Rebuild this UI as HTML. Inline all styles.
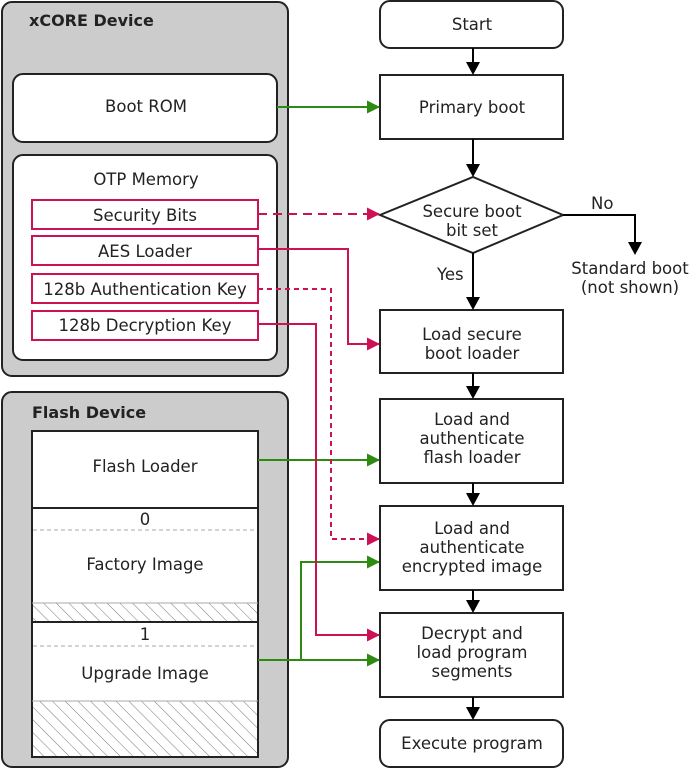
<!DOCTYPE html>
<html><head><meta charset="utf-8"><style>
html,body{margin:0;padding:0;background:#fff;width:689px;height:769px;overflow:hidden}
svg{display:block}
text{font-family:"DejaVu Sans","Liberation Sans",sans-serif;font-size:16.5px;fill:#222}
</style></head><body>
<svg width="689" height="769" viewBox="0 0 689 769" xmlns="http://www.w3.org/2000/svg">
<defs>
<pattern id="h" patternUnits="userSpaceOnUse" width="9" height="9" patternTransform="rotate(-45)">
<rect width="9" height="9" fill="#fff"/><line x1="0" y1="0" x2="0" y2="9" stroke="#777" stroke-width="1"/>
</pattern>
<marker id="ag" markerWidth="13" markerHeight="13" refX="12" refY="6.5" orient="auto" markerUnits="userSpaceOnUse"><path d="M0,0 L13,6.5 L0,13 z" fill="#2e8b12"/></marker>
<marker id="ar" markerWidth="13" markerHeight="13" refX="12" refY="6.5" orient="auto" markerUnits="userSpaceOnUse"><path d="M0,0 L13,6.5 L0,13 z" fill="#cc1155"/></marker>
</defs>

<rect x="2" y="2" width="286" height="374" rx="10" fill="#cccccc" stroke="#222" stroke-width="2"/>
<text x="29" y="26" style="font-weight:bold;font-size:16px">xCORE Device</text>
<rect x="13" y="74" width="264" height="68" rx="10" fill="#fff" stroke="#222" stroke-width="2"/>
<text x="146" y="112" text-anchor="middle">Boot ROM</text>
<rect x="13" y="155" width="264" height="205" rx="10" fill="#fff" stroke="#222" stroke-width="2"/>
<text x="146" y="185" text-anchor="middle">OTP Memory</text>
<g fill="#fff" stroke="#cc1155" stroke-width="2">
<rect x="32" y="200" width="226" height="29"/>
<rect x="32" y="236" width="226" height="29"/>
<rect x="32" y="274" width="226" height="29"/>
<rect x="32" y="311" width="226" height="29"/>
</g>
<text x="145" y="221" text-anchor="middle">Security Bits</text>
<text x="145" y="257" text-anchor="middle">AES Loader</text>
<text x="145" y="295" text-anchor="middle">128b Authentication Key</text>
<text x="145" y="331" text-anchor="middle">128b Decryption Key</text>

<rect x="2" y="392" width="286" height="375" rx="10" fill="#cccccc" stroke="#222" stroke-width="2"/>
<text x="32" y="418" style="font-weight:bold;font-size:16px">Flash Device</text>
<rect x="32" y="431" width="226" height="326" fill="#fff" stroke="#222" stroke-width="2"/>
<rect x="33" y="603" width="224" height="19" fill="url(#h)"/>
<rect x="33" y="701" width="224" height="55" fill="url(#h)"/>
<line x1="32" y1="603" x2="258" y2="603" stroke="#aaa"/>
<line x1="32" y1="701" x2="258" y2="701" stroke="#aaa"/>
<line x1="32" y1="508" x2="258" y2="508" stroke="#222" stroke-width="2"/>
<line x1="32" y1="622" x2="258" y2="622" stroke="#222" stroke-width="2"/>
<line x1="33" y1="530" x2="257" y2="530" stroke="#aaa" stroke-dasharray="4,3"/>
<line x1="33" y1="646" x2="257" y2="646" stroke="#aaa" stroke-dasharray="4,3"/>
<text x="145" y="472" text-anchor="middle">Flash Loader</text>
<text x="145" y="525" text-anchor="middle">0</text>
<text x="145" y="570" text-anchor="middle">Factory Image</text>
<text x="145" y="640" text-anchor="middle">1</text>
<text x="145" y="679" text-anchor="middle">Upgrade Image</text>

<g fill="#fff" stroke="#222" stroke-width="2">
<rect x="380" y="1" width="183" height="47" rx="10"/>
<rect x="380" y="75" width="183" height="64"/>
<polygon points="380,215 473,177 563,215 473,253"/>
<rect x="380" y="310" width="183" height="63"/>
<rect x="380" y="399" width="183" height="84"/>
<rect x="380" y="506" width="183" height="84"/>
<rect x="380" y="613" width="183" height="84"/>
<rect x="380" y="720" width="183" height="47" rx="10"/>
</g>
<g text-anchor="middle">
<text x="472" y="30">Start</text>
<text x="472" y="113">Primary boot</text>
<text x="472" y="217">Secure boot</text>
<text x="472" y="236">bit set</text>
<text x="472" y="340">Load secure</text>
<text x="472" y="359">boot loader</text>
<text x="472" y="425">Load and</text>
<text x="472" y="444">authenticate</text>
<text x="472" y="463">flash loader</text>
<text x="472" y="534">Load and</text>
<text x="472" y="553">authenticate</text>
<text x="472" y="572">encrypted image</text>
<text x="472" y="639">Decrypt and</text>
<text x="472" y="658">load program</text>
<text x="472" y="677">segments</text>
<text x="472" y="749">Execute program</text>
<text x="630" y="274">Standard boot</text>
<text x="630" y="293">(not shown)</text>
</g>
<text x="591" y="209">No</text>
<text x="437" y="280">Yes</text>

<g stroke="#000" stroke-width="2" fill="none">
<line x1="473" y1="48" x2="473" y2="64"/>
<line x1="473" y1="139" x2="473" y2="166"/>
<line x1="473" y1="253" x2="473" y2="299"/>
<line x1="473" y1="373" x2="473" y2="388"/>
<line x1="473" y1="483" x2="473" y2="495"/>
<line x1="473" y1="590" x2="473" y2="602"/>
<line x1="473" y1="697" x2="473" y2="709"/>
<polyline points="563,215 635,215 635,244"/>
</g>
<g fill="#000">
<path d="M466,62 L480,62 L473,75 z"/>
<path d="M466,164 L480,164 L473,177 z"/>
<path d="M466,297 L480,297 L473,310 z"/>
<path d="M466,386 L480,386 L473,399 z"/>
<path d="M466,493 L480,493 L473,506 z"/>
<path d="M466,600 L480,600 L473,613 z"/>
<path d="M466,707 L480,707 L473,720 z"/>
<path d="M628,242 L642,242 L635,255 z"/>
</g>

<g stroke="#2e8b12" stroke-width="2" fill="none">
<line x1="277" y1="107" x2="379" y2="107" marker-end="url(#ag)"/>
<line x1="258" y1="460" x2="379" y2="460" marker-end="url(#ag)"/>
<line x1="258" y1="660" x2="379" y2="660" marker-end="url(#ag)"/>
<polyline points="301,660 301,562 379,562" marker-end="url(#ag)"/>
</g>
<g stroke="#cc1155" stroke-width="2" fill="none">
<line x1="258" y1="214" x2="379" y2="214" stroke-dasharray="9,6" marker-end="url(#ar)"/>
<polyline points="258,249 348,249 348,344 379,344" marker-end="url(#ar)"/>
<polyline points="258,289 331,289 331,539 379,539" stroke-dasharray="5,4" marker-end="url(#ar)"/>
<polyline points="258,324 316,324 316,635 379,635" marker-end="url(#ar)"/>
</g>
</svg>
</body></html>
